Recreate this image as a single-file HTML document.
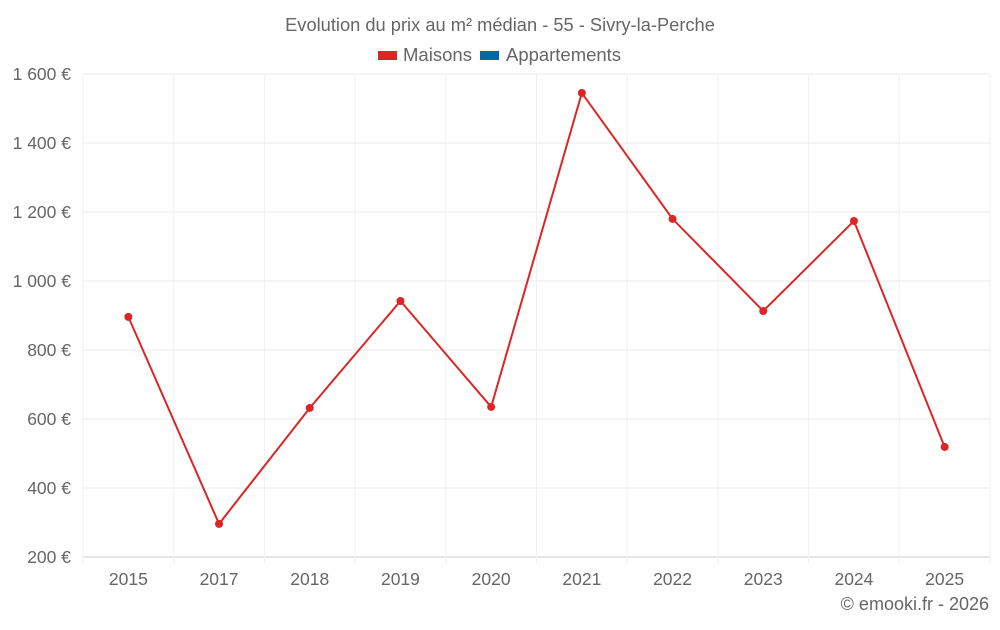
<!DOCTYPE html>
<html><head><meta charset="utf-8"><style>
body{margin:0;background:#fff;font-family:"Liberation Sans",sans-serif}
svg text{font-family:"Liberation Sans",sans-serif;fill:#666}
</style></head><body>
<svg width="1000" height="625">
<text x="500" y="31" text-anchor="middle" font-size="18.3">Evolution du prix au m² médian - 55 - Sivry-la-Perche</text>
<g><rect x="378" y="51" width="19" height="9" fill="#dc2626"/><text x="403" y="61" font-size="18" textLength="69" lengthAdjust="spacingAndGlyphs">Maisons</text></g>
<g><rect x="480" y="51" width="19" height="9" fill="#0369a1"/><text x="506" y="61" font-size="18" textLength="115" lengthAdjust="spacingAndGlyphs">Appartements</text></g>
<g id="grid"></g><g id="axes"></g><g id="series"></g>
<text x="989" y="610" text-anchor="end" font-size="18">© emooki.fr - 2026</text>
</svg>
<script>
const categories=["2015","2017","2018","2019","2020","2021","2022","2023","2024","2025"];
const maisons=[896,296,632,942,635,1545,1180,913,1174,519];
const yTicks=[200,400,600,800,1000,1200,1400,1600];
const yTickLabels=["200 €","400 €","600 €","800 €","1 000 €","1 200 €","1 400 €","1 600 €"];
const NS="http://www.w3.org/2000/svg";
const L=83,R=990,T=74,B=557,ymin=200,ymax=1600;
const bw=(R-L)/categories.length;
const xS=i=>L+bw*(i+0.5);
const yS=v=>B-(v-ymin)/(ymax-ymin)*(B-T);
function mk(t,a,p){const e=document.createElementNS(NS,t);for(const k in a)e.setAttribute(k,a[k]);p.appendChild(e);return e;}
const g=document.getElementById('grid'),ax=document.getElementById('axes'),s=document.getElementById('series');
yTicks.forEach((v,i)=>{
 const l=mk('line',{x1:L,x2:R,y1:yS(v),y2:yS(v),stroke:i==0?'#ccc':'#ebebeb'},g);
 
 
 const t=mk('text',{x:71,y:yS(v)+6,'text-anchor':'end','font-size':17.5},ax);t.textContent=yTickLabels[i];
 
 
});
for(let i=0;i<=categories.length;i++){
 const l=mk('line',{x1:L+bw*i,x2:L+bw*i,y1:T,y2:B+6,stroke:'#f0f0f0'},g);
 
 
}
categories.forEach((c,i)=>{
 const t=mk('text',{x:xS(i),y:585,'text-anchor':'middle','font-size':17.5},ax);t.textContent=c;
 
 
});
const p=mk('polyline',{points:maisons.map((v,i)=>xS(i)+','+yS(v)).join(' '),fill:'none',stroke:'#dc2626','stroke-width':2},s);


maisons.forEach((v,i)=>{
 const c=mk('circle',{cx:xS(i),cy:yS(v),r:4,fill:'#dc2626'},s);
 
 
});
</script>
</body></html>
